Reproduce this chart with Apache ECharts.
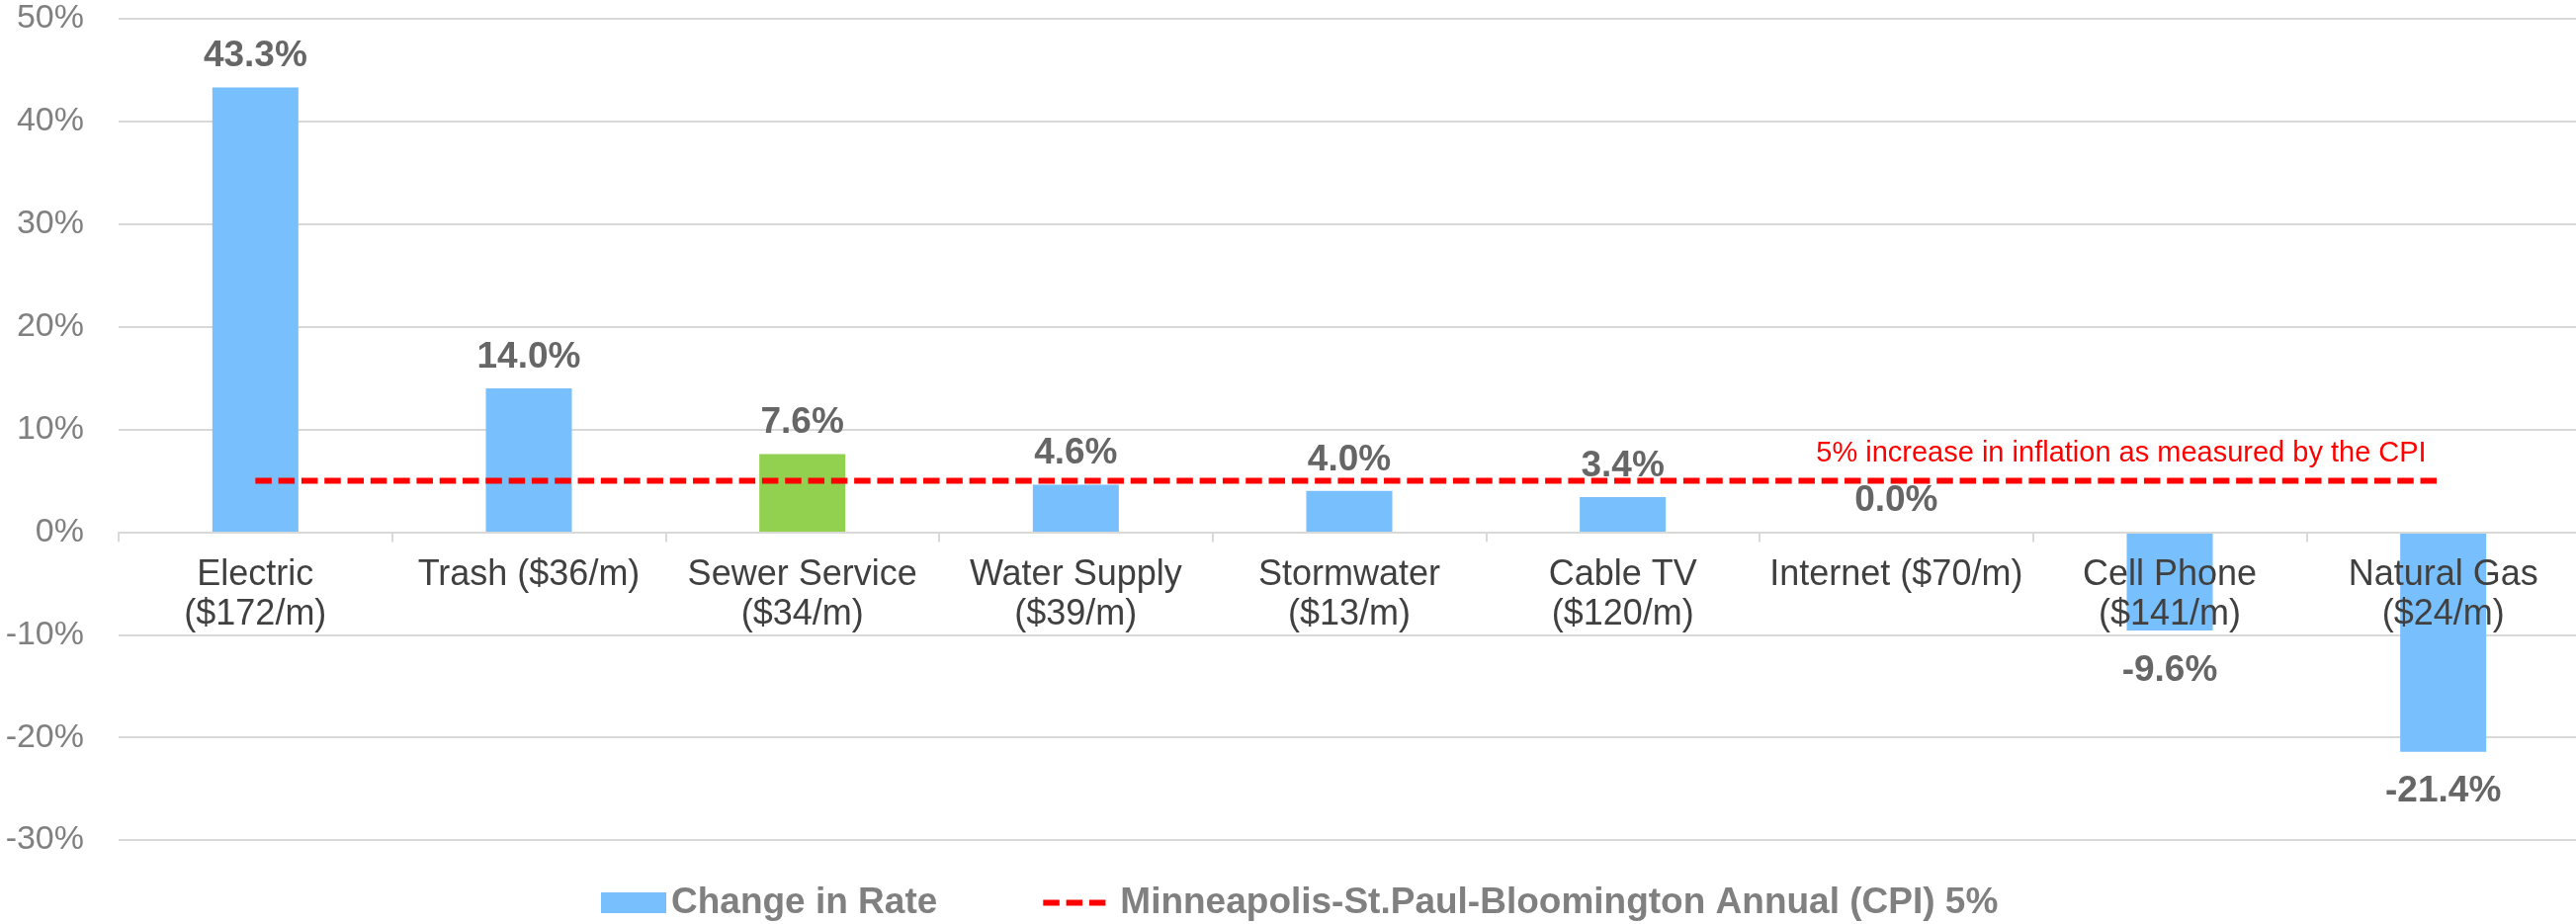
<!DOCTYPE html>
<html>
<head>
<meta charset="utf-8">
<script src="https://cdn.jsdelivr.net/npm/echarts@6/dist/echarts.min.js"></script>
<style>
  html, body { margin: 0; padding: 0; background: #fff; }
  #main { width: 2606px; height: 935px; }
</style>
</head>
<body>
<div id="main"></div>
<script>
// categories (monthly cost in brackets)
var categories = [
  'Electric\n($172/m)',
  'Trash ($36/m)',
  'Sewer Service\n($34/m)',
  'Water Supply\n($39/m)',
  'Stormwater\n($13/m)',
  'Cable TV\n($120/m)',
  'Internet ($70/m)',
  'Cell Phone\n($141/m)',
  'Natural Gas\n($24/m)'
];
// change in rate, %
var rateChange = [43.3, 14.0, 7.6, 4.6, 4.0, 3.4, 0.0, -9.6, -21.4];
// CPI reference line, %
var cpiLine = [5, 5, 5, 5, 5, 5, 5, 5, 5];
var cpiNote = '5% increase in inflation as measured by the CPI';
var yTicks = [-30, -20, -10, 0, 10, 20, 30, 40, 50];

var rateName = 'Change in Rate';
var cpiName = 'Minneapolis-St.Paul-Bloomington Annual (CPI) 5%';
var highlightIndex = 2; // Sewer Service

var BLUE = '#77bffd';
var GREEN = '#92d050';
var RED = '#ff0000';
var FONT = '"Liberation Sans", Arial, sans-serif';
var DASH = [16.5, 6.8];

var chart = echarts.init(document.getElementById('main'));

var barData = rateChange.map(function (v, i) {
  return {
    value: v,
    itemStyle: { color: i === highlightIndex ? GREEN : BLUE },
    label: v < 0 ? { position: 'bottom', distance: 22 } : { position: 'top', distance: 13 }
  };
});

var option = {
  animation: false,
  textStyle: { fontFamily: FONT },
  grid: { left: 120, right: -4, top: 19, bottom: 85, containLabel: false, outerBoundsMode: 'none' },
  legend: {
    left: 603,
    top: 890,
    itemWidth: 66,
    itemHeight: 21,
    itemGap: 104,
    textStyle: { fontSize: 37, fontWeight: 'bold', color: '#808080', fontFamily: FONT },
    data: [
      { name: rateName, icon: 'rect' },
      {
        name: cpiName,
        itemStyle: { color: 'rgba(0,0,0,0)', borderWidth: 0 },
        lineStyle: { color: RED, width: 6, type: DASH },
        textStyle: { padding: [0, 0, 0, 7] }
      }
    ]
  },
  xAxis: {
    type: 'category',
    data: categories,
    z: 5,
    offset: 0,
    axisLine: { onZero: false, lineStyle: { color: '#d9d9d9', width: 2 } },
    axisTick: { show: true, length: 10, lineStyle: { color: '#d9d9d9', width: 2 } },
    axisLabel: {
      interval: 0,
      margin: 24,
      fontSize: 36,
      lineHeight: 40,
      color: '#404040',
      fontFamily: FONT
    }
  },
  yAxis: {
    type: 'value',
    min: yTicks[0],
    max: yTicks[yTicks.length - 1],
    interval: 10,
    axisLine: { show: false },
    axisTick: { show: false },
    splitLine: { lineStyle: { color: '#d9d9d9', width: 2 } },
    axisLabel: {
      margin: 35,
      fontSize: 34,
      color: '#808080',
      fontFamily: FONT,
      formatter: function (v) { return v + '%'; }
    }
  },
  series: [
    {
      name: rateName,
      type: 'bar',
      barWidth: 87,
      itemStyle: { color: BLUE },
      label: {
        show: true,
        fontSize: 37,
        fontWeight: 'bold',
        color: '#666666',
        fontFamily: FONT,
        formatter: function (p) { return p.value.toFixed(1) + '%'; }
      },
      data: barData
    },
    {
      name: cpiName,
      type: 'line',
      z: 4,
      symbol: 'none',
      showSymbol: false,
      itemStyle: { color: RED },
      lineStyle: { color: RED, width: 6, type: DASH },
      data: cpiLine,
      markLine: {
        silent: true,
        symbol: ['none', 'none'],
        lineStyle: { color: 'rgba(0,0,0,0)', width: 1, type: 'solid' },
        label: {
          show: true,
          position: 'insideEndTop',
          distance: [17, 13],
          formatter: cpiNote,
          color: RED,
          fontSize: 29,
          fontFamily: FONT
        },
        data: [[
          { coord: [0, cpiLine[0]] },
          { coord: [categories.length - 1, cpiLine[cpiLine.length - 1]] }
        ]]
      }
    }
  ]
};

chart.setOption(option);

// put the category axis on the 0% line
var zeroY = chart.convertToPixel({ yAxisIndex: 0 }, 0);
var bottomY = chart.convertToPixel({ yAxisIndex: 0 }, yTicks[0]);
chart.setOption({ xAxis: { offset: -(bottomY - zeroY) } });
</script>
</body>
</html>
